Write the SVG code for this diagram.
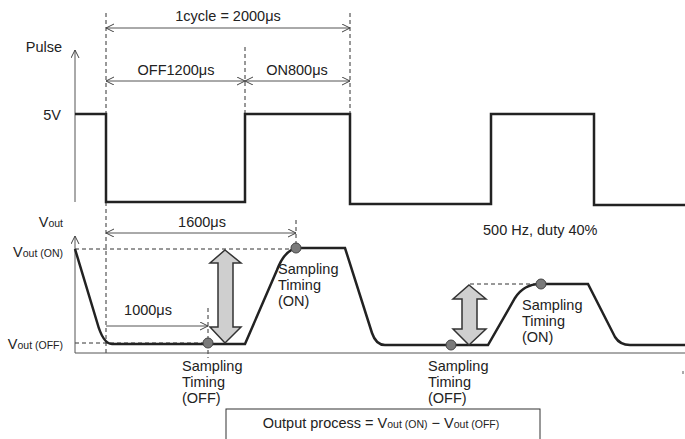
<svg xmlns="http://www.w3.org/2000/svg" width="685" height="439" viewBox="0 0 685 439">
<defs>
<marker id="oa" markerUnits="userSpaceOnUse" markerWidth="10" markerHeight="10" refX="8" refY="4" orient="auto-start-reverse">
<path d="M0,0 L8,4 L0,8" fill="none" stroke="#444" stroke-width="1"/>
</marker>
</defs>
<style>
text{font-family:"Liberation Sans",Arial,sans-serif;font-size:14.5px;fill:#222}
.sub{font-size:10.5px}
.thin{stroke:#555;stroke-width:1;fill:none}
.dash{stroke:#333;stroke-width:1;stroke-dasharray:4,3;fill:none}
.wave{stroke:#222;stroke-width:2.5;fill:none;stroke-linejoin:miter}
.dot{fill:#7a7a7a;stroke:#444;stroke-width:1}
.darr{fill:#cfcfcf;stroke:#333;stroke-width:1.5;stroke-linejoin:miter}
</style>
<rect width="685" height="439" fill="#fff"/>

<g id="guides">
<line class="dash" x1="106" y1="13" x2="106" y2="356"/>
<line class="dash" x1="245" y1="47" x2="245" y2="114"/>
<line class="dash" x1="350" y1="13" x2="350" y2="114"/>
<line class="dash" x1="296" y1="220" x2="296" y2="248"/>
<line class="dash" x1="208" y1="308" x2="208" y2="358"/>
<line class="dash" x1="75" y1="249" x2="292" y2="249"/>
<line class="dash" x1="75" y1="343" x2="204" y2="343"/>
<line class="dash" x1="470" y1="284" x2="536" y2="284"/>
</g>

<g id="axes">
<line class="thin" x1="75" y1="202" x2="75" y2="50" marker-end="url(#oa)"/>
<line class="thin" x1="75" y1="353" x2="75" y2="236" marker-end="url(#oa)"/>
<line class="thin" x1="75" y1="353" x2="685" y2="353"/>
<line class="thin" x1="683" y1="371" x2="683" y2="374"/>
</g>

<g id="connectors">
<line class="thin" x1="106" y1="28" x2="350" y2="28" marker-start="url(#oa)" marker-end="url(#oa)"/>
<line class="thin" x1="106" y1="81" x2="245" y2="81" marker-start="url(#oa)" marker-end="url(#oa)"/>
<line class="thin" x1="245" y1="81" x2="350" y2="81" marker-start="url(#oa)" marker-end="url(#oa)"/>
<line class="thin" x1="106" y1="233" x2="296" y2="233" marker-start="url(#oa)" marker-end="url(#oa)"/>
<line class="thin" x1="106" y1="326" x2="208" y2="326" marker-end="url(#oa)"/>
</g>

<g id="pulse">
<path class="wave" d="M75,114 H106 V202 H245 V114 H350 V204 H491 V114 H594 V205 H685"/>
</g>

<g id="vout">
<path class="wave" d="M75,249 L97,322 Q103,344 112,344 L245,344 L277,270 Q285,249 298,248 L345,248 L372,333 Q376,345 385,345 L488,345 L515,298 Q524,284 540,284 L588,284 L615,337 Q620,345 630,345 L685,345"/>
</g>

<g id="diff-arrow-1">
<path class="darr" d="M225,250 L241,263 H233 V327 H241 L225,343 L210,327 H218 V263 H210 Z"/>
</g>
<g id="diff-arrow-2">
<path class="darr" d="M469,285 L486,299 H477 V329 H486 L469,345 L453,329 H462 V299 H453 Z"/>
</g>

<g id="samples">
<circle class="dot" cx="208" cy="343" r="5"/>
<circle class="dot" cx="296" cy="248" r="5"/>
<circle class="dot" cx="451" cy="345" r="5"/>
<circle class="dot" cx="541" cy="284" r="5"/>
</g>

<g id="labels">
<text x="228" y="21" text-anchor="middle" font-size="15">1cycle = 2000μs</text>
<text x="176" y="75" text-anchor="middle">OFF1200μs</text>
<text x="297" y="75" text-anchor="middle">ON800μs</text>
<text x="62" y="52" text-anchor="end">Pulse</text>
<text x="61" y="120" text-anchor="end">5V</text>
<text x="63" y="227" text-anchor="end">V<tspan class="sub">out</tspan></text>
<text x="63" y="257" text-anchor="end">V<tspan class="sub">out (ON)</tspan></text>
<text x="63" y="349" text-anchor="end">V<tspan class="sub">out (OFF)</tspan></text>
<text x="202" y="227" text-anchor="middle">1600μs</text>
<text x="148" y="315" text-anchor="middle">1000μs</text>
<text x="483" y="235">500 Hz, duty 40%</text>
<text x="278" y="274">Sampling</text>
<text x="278" y="290">Timing</text>
<text x="278" y="306">(ON)</text>
<text x="522" y="310">Sampling</text>
<text x="522" y="326">Timing</text>
<text x="522" y="342">(ON)</text>
<text x="182" y="371">Sampling</text>
<text x="182" y="387">Timing</text>
<text x="182" y="403">(OFF)</text>
<text x="428" y="371">Sampling</text>
<text x="428" y="387">Timing</text>
<text x="428" y="403">(OFF)</text>
</g>

<g id="formula">
<rect x="226" y="409" width="314" height="40" fill="#fff" stroke="#333" stroke-width="1"/>
<text x="381" y="428" text-anchor="middle">Output process = V<tspan class="sub">out (ON)</tspan> − V<tspan class="sub">out (OFF)</tspan></text>
</g>
</svg>
